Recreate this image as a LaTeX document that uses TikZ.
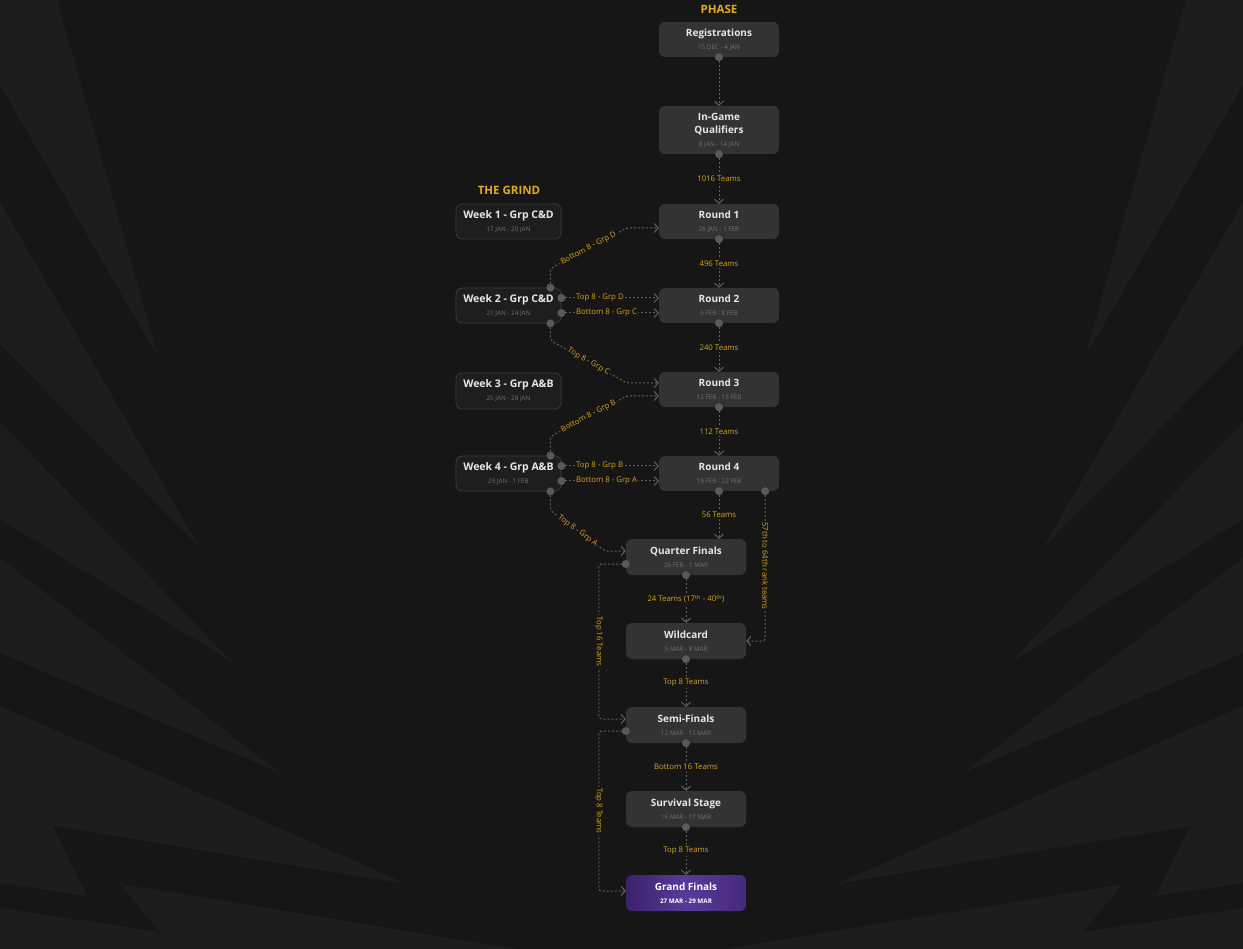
\documentclass[tikz,border=0pt]{standalone}
\usepackage{fontspec}
\setmainfont{Open Sans}
\usetikzlibrary{arrows.meta}

\definecolor{bgdark}{HTML}{161616}
\definecolor{stripe}{HTML}{1D1D1D}
\definecolor{phasefill}{HTML}{333333}
\definecolor{grindfill}{HTML}{1E1E1E}
\definecolor{grindline}{HTML}{3A3A3A}
\definecolor{titlec}{HTML}{E8E8E8}
\definecolor{datec}{HTML}{727272}
\definecolor{gold}{HTML}{D8A51C}
\definecolor{headgold}{HTML}{E4AA20}
\definecolor{flowline}{HTML}{626262}
\definecolor{dotc}{HTML}{5A5A5A}
\definecolor{gfleft}{HTML}{3B2169}
\definecolor{gfmid}{HTML}{5A3A99}
\definecolor{gfright}{HTML}{45297C}

\newcommand{\stage}[3][datec]{#2\\{\fontsize{6.3}{7}\selectfont\mdseries\color{#1}#3}}

\tikzset{
  phase/.style={fill=phasefill, rounded corners=6pt, minimum width=120pt,
    minimum height=35pt, inner sep=0pt, align=center, text=titlec,
    font=\fontsize{10}{13}\selectfont\bfseries},
  grind/.style={phase, fill=grindfill, draw=grindline, line width=0.8pt,
    minimum width=105pt, font=\fontsize{10.5}{13}\selectfont\bfseries},
  flow/.style={draw=flowline, line width=1pt, dash pattern=on 2pt off 2pt,
    rounded corners=3pt, -{Straight Barb[length=4pt,width=9pt,line width=1pt]}},
  dot/.style={circle, fill=dotc, inner sep=0pt, minimum size=8pt},
  lab/.style={text=gold, font=\fontsize{7.8}{8}\selectfont, fill=bgdark,
    inner sep=1.5pt},
  heading/.style={text=headgold, font=\fontsize{11.5}{12}\selectfont\bfseries},
}

\begin{document}
\begin{tikzpicture}[x=1pt,y=-1pt]
\useasboundingbox (0,0) rectangle (1243,949);
\fill[bgdark] (0,0) rectangle (1243,949);

% background streaks, left side and its mirror image
\foreach \s/\o in {1/0,-1/1243}{
  \begin{scope}[shift={(\o,0)},xscale=\s]
    \fill[stripe] (0,0) -- (57,0) -- (158,357) -- (0,85) -- cycle;
    \fill[stripe] (0,202) -- (200,548) -- (0,344) -- cycle;
    \fill[stripe] (0,422) -- (232,662) -- (0,519) -- cycle;
    \fill[stripe] (0,558) -- (280,773) -- (0,653) -- cycle;
    \fill[stripe] (0,706) -- (407,884) -- (53,826) -- (87,896) -- (0,883) -- cycle;
    \fill[stripe] (0,908) -- (160,932) -- (120,884) -- (517,949) -- (0,949) -- cycle;
  \end{scope}
}

\node[heading] (phasehead) at (719,9) {PHASE};
\node[heading] (grindhead) at (509,190) {THE GRIND};

% main phases
\node[phase] (reg) at (719,39.5) {\stage{Registrations}{15 DEC - 4 JAN}};
\node[phase, minimum height=48pt] (igq) at (719,130) {\stage{In-Game\\Qualifiers}{8 JAN - 14 JAN}};
\node[phase] (r1) at (719,221.5) {\stage{Round 1}{26 JAN - 1 FEB}};
\node[phase] (r2) at (719,305.5) {\stage{Round 2}{5 FEB - 8 FEB}};
\node[phase] (r3) at (719,389.5) {\stage{Round 3}{12 FEB - 15 FEB}};
\node[phase] (r4) at (719,473.5) {\stage{Round 4}{19 FEB - 22 FEB}};
\node[phase, minimum height=36pt] (qf) at (686,557) {\stage{Quarter Finals}{26 FEB - 1 MAR}};
\node[phase, minimum height=36pt] (wc) at (686,641) {\stage{Wildcard}{5 MAR - 8 MAR}};
\node[phase, minimum height=36pt] (sf) at (686,725) {\stage{Semi-Finals}{12 MAR - 15 MAR}};
\node[phase, minimum height=36pt] (ss) at (686,809) {\stage{Survival Stage}{16 MAR - 17 MAR}};
\node[phase, minimum height=36pt, fill=none, left color=gfleft, right color=gfright,
      middle color=gfmid, text=white] (gf) at (686,893)
     {\stage[white]{Grand Finals}{\bfseries 27 MAR - 29 MAR}};

% the grind
\node[grind] (w1) at (508.5,221.5) {\stage{Week 1 - Grp C\&D}{17 JAN - 20 JAN}};
\node[grind] (w2) at (508.5,305.5) {\stage{Week 2 - Grp C\&D}{21 JAN - 24 JAN}};
\node[grind, minimum height=36pt] (w3) at (508.5,391) {\stage{Week 3 - Grp A\&B}{25 JAN - 28 JAN}};
\node[grind] (w4) at (508.5,473.5) {\stage{Week 4 - Grp A\&B}{29 JAN - 1 FEB}};

% phase to phase
\draw[flow] (reg.south) node[dot]{} -- (igq.north);
\draw[flow] (igq.south) node[dot]{} -- node[lab]{1016 Teams} (r1.north);
\draw[flow] (r1.south) node[dot]{} -- node[lab]{496 Teams} (r2.north);
\draw[flow] (r2.south) node[dot]{} -- node[lab]{240 Teams} (r3.north);
\draw[flow] (r3.south) node[dot]{} -- node[lab]{112 Teams} (r4.north);
\draw[flow] (r4.south) node[dot]{} -- node[lab]{56 Teams} (r4.south |- qf.north);
\draw[flow] ([xshift=-14pt]r4.south east) node[dot]{}
     |- node[lab, rotate=-90, pos=0.25]{57th to 64th rank teams} (wc.east);
\draw[flow] (qf.south) node[dot]{} -- node[lab]{24 Teams (17\textsuperscript{th} - 40\textsuperscript{th})} (wc.north);
\draw[flow] (wc.south) node[dot]{} -- node[lab]{Top 8 Teams} (sf.north);
\draw[flow] (sf.south) node[dot]{} -- node[lab]{Bottom 16 Teams} (ss.north);
\draw[flow] (ss.south) node[dot]{} -- node[lab]{Top 8 Teams} (gf.north);
\draw[flow] ([yshift=-7pt]qf.west) node[dot]{} -- ++(-27,0)
     |- node[lab, rotate=-90, pos=0.25]{Top 16 Teams} ([yshift=6pt]sf.west);
\draw[flow] ([yshift=-6pt]sf.west) node[dot]{} -- ++(-27,0)
     |- node[lab, rotate=-90, pos=0.25]{Top 8 Teams} ([yshift=2pt]gf.west);

% grind to phase
\draw[flow] ([xshift=-11pt]w2.north east) node[dot]{} -- ++(0,-19)
     -- node[lab, sloped]{Bottom 8 - Grp D} ([xshift=-32pt,yshift=-6.5pt]r1.west)
     -- ([yshift=-6.5pt]r1.west);
\draw[flow] ([yshift=7.5pt]w2.east) node[dot]{}
     -- node[lab, pos=0.13, anchor=west]{Top 8 - Grp D} ([yshift=7.5pt]r2.west);
\draw[flow] ([yshift=-7.5pt]w2.east) node[dot]{}
     -- node[lab, pos=0.13, anchor=west]{Bottom 8 - Grp C} ([yshift=-7.5pt]r2.west);
\draw[flow] ([xshift=-11pt]w2.south east) node[dot]{} -- ++(0,17)
     -- node[lab, sloped]{Top 8 - Grp C} ([xshift=-32pt,yshift=6.5pt]r3.west)
     -- ([yshift=6.5pt]r3.west);
\draw[flow] ([xshift=-11pt]w4.north east) node[dot]{} -- ++(0,-19)
     -- node[lab, sloped]{Bottom 8 - Grp B} ([xshift=-32pt,yshift=-6.5pt]r3.west)
     -- ([yshift=-6.5pt]r3.west);
\draw[flow] ([yshift=7.5pt]w4.east) node[dot]{}
     -- node[lab, pos=0.13, anchor=west]{Top 8 - Grp B} ([yshift=7.5pt]r4.west);
\draw[flow] ([yshift=-7.5pt]w4.east) node[dot]{}
     -- node[lab, pos=0.13, anchor=west]{Bottom 8 - Grp A} ([yshift=-7.5pt]r4.west);
\draw[flow] ([xshift=-11pt]w4.south east) node[dot]{} -- ++(0,19)
     -- node[lab, sloped]{Top 8 - Grp A} ([xshift=-21pt,yshift=6pt]qf.west)
     -- ([yshift=6pt]qf.west);
\end{tikzpicture}
\end{document}
